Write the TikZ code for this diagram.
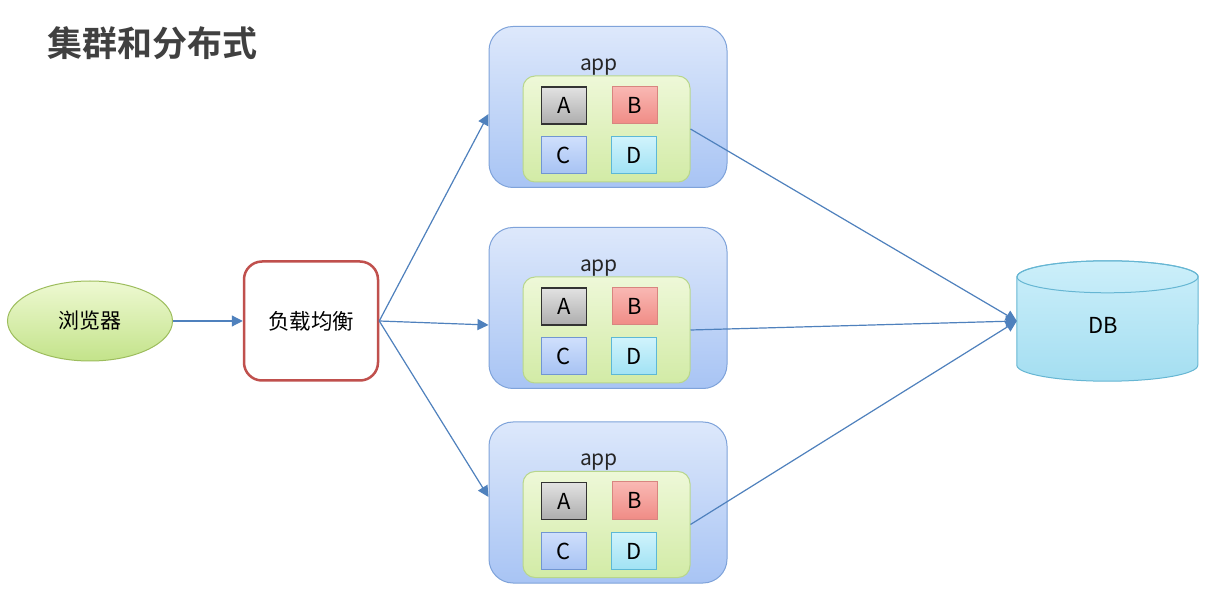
\documentclass[tikz,border=0pt]{standalone}
\usepackage{fontspec}
\setmainfont{Noto Sans CJK SC}
\newfontfamily\titlefont{Noto Sans CJK SC Bold}
\usetikzlibrary{arrows.meta,calc,shapes.geometric}
\definecolor{arrowblue}{HTML}{4F81BD}
\definecolor{appborder}{HTML}{7FA3DA}
\definecolor{apptop}{HTML}{DDE8FB}
\definecolor{appbot}{HTML}{A8C4F4}
\definecolor{innerborder}{HTML}{B8D68C}
\definecolor{innertop}{HTML}{EEF8D8}
\definecolor{innerbot}{HTML}{D2EBA6}
\definecolor{graytop}{HTML}{E2E2E2}
\definecolor{graybot}{HTML}{ADADAD}
\definecolor{redtop}{HTML}{F9B8B3}
\definecolor{redbot}{HTML}{F08C86}
\definecolor{redborder}{HTML}{D88580}
\definecolor{bluetop}{HTML}{CFDFFC}
\definecolor{bluebot}{HTML}{A6C2F3}
\definecolor{blueborder}{HTML}{7196D2}
\definecolor{cyantop}{HTML}{D0F3FC}
\definecolor{cyanbot}{HTML}{A0E2F4}
\definecolor{cyanborder}{HTML}{5DB8D6}
\definecolor{greentop}{HTML}{EEF9D2}
\definecolor{greenbot}{HTML}{C3E38A}
\definecolor{greenborder}{HTML}{9DBD5D}
\definecolor{lbborder}{HTML}{C0504D}
\definecolor{dbtop}{HTML}{CCEFFA}
\definecolor{dbbot}{HTML}{A4DEF1}
\definecolor{dbborder}{HTML}{66B6D3}
\definecolor{titlegray}{HTML}{404040}
\tikzset{
  appbox/.style={draw=appborder, line width=1pt, rounded corners=24pt, top color=apptop, bottom color=appbot, minimum width=238pt, minimum height=161pt},
  innerbox/.style={draw=innerborder, line width=1pt, rounded corners=12pt, top color=innertop, bottom color=innerbot, minimum width=167pt, minimum height=106pt},
  modbox/.style={line width=1pt, minimum width=45pt, minimum height=37pt, inner sep=0pt, font=\fontsize{22}{24}\selectfont},
  modA/.style={modbox, draw=black!80, line width=1.2pt, top color=graytop, bottom color=graybot},
  modB/.style={modbox, draw=redborder, top color=redtop, bottom color=redbot},
  modC/.style={modbox, draw=blueborder, top color=bluetop, bottom color=bluebot},
  modD/.style={modbox, draw=cyanborder, top color=cyantop, bottom color=cyanbot},
  applabel/.style={font=\fontsize{21}{23}\selectfont, text=black!85, inner sep=0pt},
  conn/.style={draw=arrowblue, line width=1.2pt, -{Triangle[width=11pt,length=11pt]}},
}
\newcommand\appgroup[2]{%
  \node[appbox] (#1) at (608,#2) {};
  \node[applabel] (#1lab) at ($(#1.center)+(-9,40)$) {app};
  \node[innerbox] (#1in) at ($(#1.center)+(-1.5,-22)$) {};
  \node[modA] (#1A) at ($(#1in.center)+(-42.5,23.5)$) {A};
  \node[modB] (#1B) at ($(#1in.center)+(28.5,24)$) {B};
  \node[modC] (#1C) at ($(#1in.center)+(-42.5,-26.5)$) {C};
  \node[modD] (#1D) at ($(#1in.center)+(27.5,-26.5)$) {D};
}
\begin{document}
\begin{tikzpicture}[x=1pt,y=1pt]
\useasboundingbox[fill=white] (0,0) rectangle (1210,600);
\node[font=\titlefont\fontsize{35}{38}\selectfont, text=titlegray, inner sep=0pt] (title) at (152,557) {集群和分布式};
\node[ellipse, draw=greenborder, line width=1pt, top color=greentop, bottom color=greenbot, minimum width=165pt, minimum height=80pt, font=\fontsize{21}{23}\selectfont] (browser) at (90,279) {浏览器};
\node[draw=lbborder, line width=2.5pt, rounded corners=18pt, fill=white, minimum width=134pt, minimum height=119pt, font=\fontsize{21.5}{23}\selectfont] (lb) at (311,279) {负载均衡};
\appgroup{app1}{493}
\appgroup{app2}{292}
\appgroup{app3}{97.5}
% database cylinder
\node[minimum width=181pt, minimum height=120pt, inner sep=0pt] (db) at (1107.5,279) {};
\path[draw=dbborder, line width=1pt, top color=dbtop, bottom color=dbbot]
  ($(db.north west)+(0,-16)$) -- ($(db.south west)+(0,16)$)
  arc[start angle=180, end angle=360, x radius=90.5pt, y radius=16pt]
  -- ($(db.north east)+(0,-16)$)
  arc[start angle=0, end angle=180, x radius=90.5pt, y radius=16pt] -- cycle;
\draw[dbborder, line width=1pt] ($(db.north)+(0,-16)$) ellipse[x radius=90.5pt, y radius=16pt];
\node[font=\fontsize{22}{24}\selectfont] (dblab) at ($(db.center)+(-4,-4)$) {DB};
% connectors
\draw[conn] (browser.east) -- (lb.west);
\draw[conn] (lb.east) -- ($(app1.west)+(0,-7)$);
\draw[conn] (lb.east) -- ($(app2.west)+(0,-17)$);
\draw[conn] (lb.east) -- ($(app3.west)+(0,5.5)$);
\draw[conn] (app1in.east) -- (db.west);
\draw[conn] (app2in.east) -- (db.west);
\draw[conn] (app3in.east) -- (db.west);
\end{tikzpicture}
\end{document}
